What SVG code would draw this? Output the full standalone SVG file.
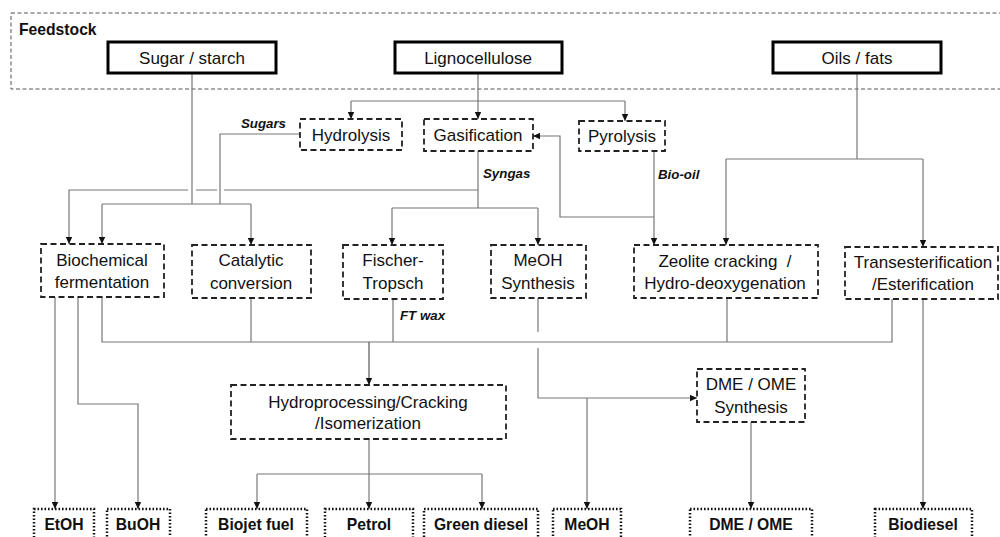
<svg xmlns="http://www.w3.org/2000/svg" width="1000" height="537" viewBox="0 0 1000 537">
<style>
text{font-family:"Liberation Sans",Arial,sans-serif;fill:#111}
.t{font-size:17px;text-anchor:middle}
.b{font-size:15.7px;font-weight:bold;text-anchor:middle}
.l{font-size:13.3px;font-weight:bold;font-style:italic}
.feed{fill:#fff;stroke:#000;stroke-width:3}
.proc{fill:#fff;stroke:#222;stroke-width:1.8;stroke-dasharray:6,3.5}
.prod{fill:#fff;stroke:#111;stroke-width:2.5;stroke-dasharray:1.6,1.9}
.c{fill:none;stroke:#777;stroke-width:1.2}
.a{fill:none;stroke:#777;stroke-width:1.2;marker-end:url(#ah)}
</style>
<defs>
<marker id="ah" markerWidth="7" markerHeight="7" refX="7" refY="3.5" orient="auto" markerUnits="userSpaceOnUse">
<path d="M0,0.3 L7,3.5 L0,6.7 z" fill="#111"/>
</marker>
</defs>
<rect x="0" y="0" width="1000" height="537" fill="#fff"/>
<g id="feedstock-area">
<rect x="11" y="13" width="1000" height="76" fill="none" stroke="#555" stroke-width="1" stroke-dasharray="4,2.5"/>
<text x="19" y="35" style="font-size:15.7px;font-weight:bold">Feedstock</text>
</g>
<g id="connectors">
<path class="c" d="M192,73 V204"/>
<path class="c" d="M102,204 H251"/>
<path class="a" d="M102,204 V244"/>
<path class="a" d="M251,204 V245"/>
<path class="c" d="M300,134 H220 V204"/>
<path class="c" d="M478,73 V101"/>
<path class="c" d="M351,101 H625"/>
<path class="a" d="M351,101 V119"/>
<path class="a" d="M478,101 V119"/>
<path class="a" d="M625,101 V121"/>
<path class="c" d="M478,151 V208"/>
<path class="c" d="M392,208 H538"/>
<path class="a" d="M392,208 V245"/>
<path class="a" d="M538,208 V245"/>
<path class="c" d="M478,190 H224 M217,190 H196"/>
<path class="a" d="M188,190 H69 V244"/>
<path class="a" d="M654,151 V245"/>
<path class="a" d="M654,217 H560 V136 H533"/>
<path class="c" d="M857,73 V159"/>
<path class="c" d="M726,159 H923"/>
<path class="a" d="M726,159 V245"/>
<path class="a" d="M923,159 V247"/>
<path class="a" d="M55,297 V509"/>
<path class="a" d="M78,297 V404 H138 V509"/>
<path class="c" d="M102,297 V342 H892 V299"/>
<path class="c" d="M251,298 V342"/>
<path class="c" d="M393,299 V342"/>
<path class="c" d="M727,298 V342"/>
<path class="a" d="M369,342 V385" style="stroke:#555"/>
<path class="c" d="M369,439 V474"/>
<path class="c" d="M257,474 H482"/>
<path class="a" d="M257,474 V509"/>
<path class="a" d="M369,474 V509"/>
<path class="a" d="M482,474 V509"/>
<path class="c" d="M538,298 V332"/>
<path class="a" d="M538,348 V398 H697"/>
<path class="a" d="M587,398 V509"/>
<path class="a" d="M751,422 V509"/>
<path class="a" d="M923,299 V509"/>
</g>
<g id="labels">
<text class="l" x="286" y="128" text-anchor="end">Sugars</text>
<text class="l" x="483" y="178">Syngas</text>
<text class="l" x="658" y="179">Bio-oil</text>
<text class="l" x="400" y="320">FT wax</text>
</g>
<g id="sugar-starch"><rect class="feed" x="108" y="42" width="168" height="31"/><text class="t" x="192" y="64">Sugar / starch</text></g>
<g id="lignocellulose"><rect class="feed" x="395" y="42" width="167" height="31"/><text class="t" x="478" y="64">Lignocellulose</text></g>
<g id="oils-fats"><rect class="feed" x="773" y="42" width="168" height="31"/><text class="t" x="857" y="64">Oils / fats</text></g>
<g id="hydrolysis"><rect class="proc" x="300" y="119" width="102" height="31"/><text class="t" x="351" y="141">Hydrolysis</text></g>
<g id="gasification"><rect class="proc" x="424" y="119" width="109" height="32"/><text class="t" x="478" y="141">Gasification</text></g>
<g id="pyrolysis"><rect class="proc" x="579" y="121" width="86" height="30"/><text class="t" x="622" y="142">Pyrolysis</text></g>
<g id="biochemical"><rect class="proc" x="41" y="244" width="123" height="53"/><text class="t" x="102" y="266">Biochemical</text><text class="t" x="102" y="288">fermentation</text></g>
<g id="catalytic"><rect class="proc" x="192" y="245" width="119" height="53"/><text class="t" x="251" y="266">Catalytic</text><text class="t" x="251" y="289">conversion</text></g>
<g id="fischer-tropsch"><rect class="proc" x="343" y="245" width="100" height="54"/><text class="t" x="393" y="266">Fischer-</text><text class="t" x="393" y="289">Tropsch</text></g>
<g id="meoh-synthesis"><rect class="proc" x="491" y="245" width="95" height="53"/><text class="t" x="538" y="266">MeOH</text><text class="t" x="538" y="289">Synthesis</text></g>
<g id="zeolite"><rect class="proc" x="634" y="245" width="184" height="53"/><text class="t" x="725" y="267">Zeolite cracking&#160; /</text><text class="t" x="725" y="289">Hydro-deoxygenation</text></g>
<g id="transesterification"><rect class="proc" x="845" y="247" width="153" height="52"/><text class="t" x="923" y="268">Transesterification</text><text class="t" x="923" y="290">/Esterification</text></g>
<g id="hydroprocessing"><rect class="proc" x="231" y="385" width="275" height="54"/><text class="t" x="368" y="408">Hydroprocessing/Cracking</text><text class="t" x="368" y="429">/Isomerization</text></g>
<g id="dme-ome-synthesis"><rect class="proc" x="697" y="369" width="108" height="53"/><text class="t" x="751" y="390">DME / OME</text><text class="t" x="751" y="413">Synthesis</text></g>
<g id="etoh"><rect class="prod" x="34" y="509" width="60" height="40"/><text class="b" x="64" y="530">EtOH</text></g>
<g id="buoh"><rect class="prod" x="107" y="509" width="63" height="40"/><text class="b" x="138" y="530">BuOH</text></g>
<g id="biojet"><rect class="prod" x="206" y="509" width="101" height="40"/><text class="b" x="256" y="530">Biojet fuel</text></g>
<g id="petrol"><rect class="prod" x="325" y="509" width="88" height="40"/><text class="b" x="369" y="530">Petrol</text></g>
<g id="green-diesel"><rect class="prod" x="424" y="509" width="114" height="40"/><text class="b" x="481" y="530">Green diesel</text></g>
<g id="meoh"><rect class="prod" x="553" y="509" width="68" height="40"/><text class="b" x="587" y="530">MeOH</text></g>
<g id="dme-ome"><rect class="prod" x="690" y="509" width="122" height="40"/><text class="b" x="751" y="530">DME / OME</text></g>
<g id="biodiesel"><rect class="prod" x="875" y="509" width="97" height="40"/><text class="b" x="923" y="530">Biodiesel</text></g>
</svg>
